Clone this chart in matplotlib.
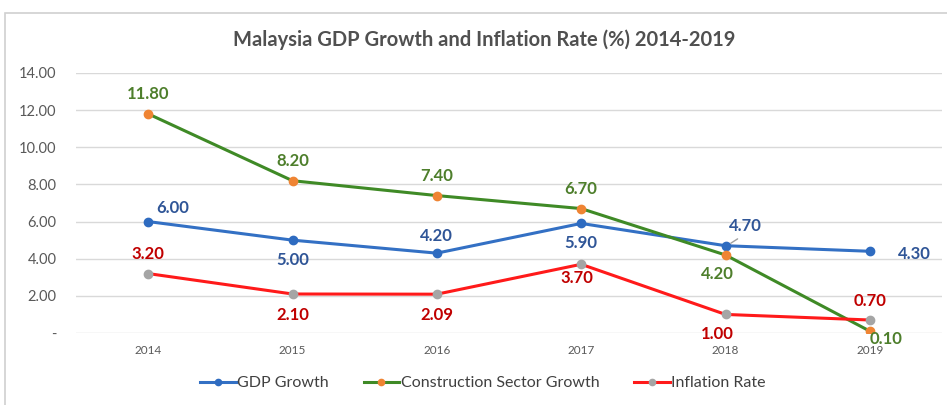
import numpy as np
from matplotlib import pyplot as plt
from matplotlib.patches import Rectangle

plt.rcParams['font.family'] = ['Lato', 'DejaVu Sans']

years = ["2014", "2015", "2016", "2017", "2018", "2019"]
gdp = [6.0, 5.0, 4.3, 5.9, 4.7, 4.4]
construction = [11.8, 8.2, 7.4, 6.7, 4.2, 0.1]
inflation = [3.2, 2.1, 2.09, 3.7, 1.0, 0.7]
gdp_labels = ["6.00", "5.00", "4.20", "5.90", "4.70", "4.30"]
con_labels = ["11.80", "8.20", "7.40", "6.70", "4.20", "0.10"]
inf_labels = ["3.20", "2.10", "2.09", "3.70", "1.00", "0.70"]

x = np.arange(len(years))

fig = plt.figure(figsize=(9.47, 4.05), dpi=100)
fig.patches.append(Rectangle((5 / 947, -0.05), 1.0, (405 - 13) / 405 + 0.05,
                             transform=fig.transFigure, fill=False,
                             edgecolor="#d0d0d0", lw=1.2))
ax = fig.add_axes([76 / 947, 72 / 405, 866 / 947, 260 / 405])

ax.plot(x, gdp, color="#3370c4", lw=2.2, marker="o", ms=6,
        mfc="#2e6bc0", mec="#2e6bc0", label="GDP Growth", zorder=3)
ax.plot(x, construction, color="#3f8a26", lw=2.2, marker="o", ms=6,
        mfc="#ef8433", mec="#ef8433", label="Construction Sector Growth", zorder=3)
ax.plot(x, inflation, color="#ff1a1a", lw=2.2, marker="o", ms=6,
        mfc="#a5a5a5", mec="#a5a5a5", label="Inflation Rate", zorder=3)

# data label offsets in points (dx, dy)
gdp_off = [(18, 10), (0, -14), (0, 12), (0, -14), (14, 14), (32, -2)]
con_off = [(0, 14), (0, 14), (0, 14), (0, 14), (-6, -14), (12, -6)]
inf_off = [(0, 14), (0, -15), (0, -15), (-3, -10), (-6, -14), (0, 14)]

def put_labels(vals, texts, offs, col):
    for i in range(len(vals)):
        ax.annotate(texts[i], (x[i], vals[i]), xytext=offs[i],
                    textcoords="offset points", ha="center", va="center",
                    fontsize=12, fontweight="bold", color=col, zorder=4)

put_labels(gdp, gdp_labels, gdp_off, "#2f5597")
put_labels(construction, con_labels, con_off, "#4e7f2c")
put_labels(inflation, inf_labels, inf_off, "#c00000")

# small leader line for the 2018 GDP label
ax.annotate("", (x[4] + 0.02, gdp[4] + 0.05), xytext=(x[4] + 0.1, gdp[4] + 0.45),
            arrowprops=dict(arrowstyle="-", color="#a0a0a0", lw=1))

ax.set_xlim(-0.5, 5.5)
ax.set_ylim(0, 14)
ax.set_yticks(np.arange(0, 15, 2))
ax.set_yticklabels(["-"] + ["%.2f" % v for v in np.arange(2, 15, 2)])
ax.set_xticks(x)
ax.set_xticklabels(years)
ax.tick_params(axis="y", length=0, pad=14, labelsize=10.5, labelcolor="#595959")
ax.tick_params(axis="x", length=0, pad=9, labelsize=8.5, labelcolor="#595959")
ax.grid(axis="y", color="#d9d9d9", lw=1)
ax.set_axisbelow(True)
for s in ax.spines.values():
    s.set_visible(False)

fig.text(484 / 947, 1 - 40 / 405, "Malaysia GDP Growth and Inflation Rate (%) 2014-2019",
         ha="center", va="center", fontsize=14.5, fontweight="bold", color="#505050")

fig.legend(loc="center", bbox_to_anchor=(483 / 947, 1 - 383 / 405), ncol=3,
           frameon=False, fontsize=11.5, handlelength=2.2, handletextpad=0.1,
           columnspacing=2.2, labelcolor="#404040", markerscale=0.75)

fig.savefig("out.png", dpi=100)
